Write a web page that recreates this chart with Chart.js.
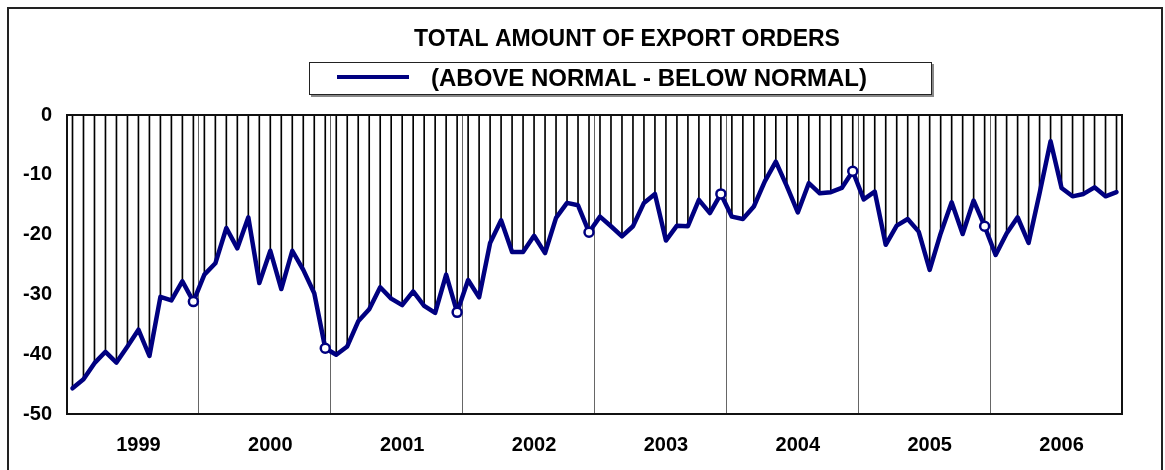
<!DOCTYPE html>
<html>
<head>
<meta charset="utf-8">
<script src="https://cdn.jsdelivr.net/npm/chart.js@4/dist/chart.umd.min.js"></script>
<style>
  html, body { margin: 0; padding: 0; background: #fff; }
  #wrap { position: relative; width: 1165px; height: 470px; }
</style>
</head>
<body>
<div id="wrap"><canvas id="exportChart" width="1165" height="470"></canvas></div>
<script>
  // yearly blocks, monthly balance (above normal - below normal)
  var years = ['1999', '2000', '2001', '2002', '2003', '2004', '2005', '2006'];
  var v1999 = [-45.7, -44.2, -41.5, -39.6, -41.4, -38.7, -35.9, -40.3, -30.4, -31.0, -27.8, -31.2];
  var v2000 = [-26.7, -24.8, -18.9, -22.3, -17.1, -28.1, -22.7, -29.1, -22.7, -25.9, -29.8, -39.0];
  var v2001 = [-40.1, -38.7, -34.5, -32.5, -28.8, -30.7, -31.8, -29.5, -31.9, -33.1, -26.7, -33.0];
  var v2002 = [-27.6, -30.5, -21.4, -17.6, -22.9, -22.9, -20.2, -23.1, -17.2, -14.7, -15.1, -19.6];
  var v2003 = [-17.0, -18.6, -20.3, -18.6, -14.7, -13.2, -21.0, -18.5, -18.6, -14.2, -16.4, -13.2];
  var v2004 = [-17.0, -17.4, -15.3, -11.1, -7.8, -11.9, -16.3, -11.4, -13.1, -12.9, -12.2, -9.4];
  var v2005 = [-14.1, -12.8, -21.7, -18.5, -17.4, -19.5, -25.9, -19.8, -14.6, -19.9, -14.3, -18.6];
  var v2006 = [-23.4, -19.8, -17.1, -21.4, -13.1, -4.4, -12.2, -13.6, -13.2, -12.1, -13.6, -12.9];
  var yTicks = [0, -10, -20, -30, -40, -50];

  var titleText = 'TOTAL AMOUNT OF EXPORT ORDERS';
  var seriesName = '(ABOVE NORMAL - BELOW NORMAL)';

  var values = [].concat(v1999, v2000, v2001, v2002, v2003, v2004, v2005, v2006);
  var labels = [];
  years.forEach(function (y) {
    for (var m = 1; m <= 12; m++) labels.push(y + '-' + m);
  });

  var NAVY = '#000080';
  var FONT = '"Liberation Sans", Arial, sans-serif';

  // outer frame, plot border, title and boxed legend
  var framePlugin = {
    id: 'frame',
    beforeDraw: function (chart) {
      var ctx = chart.ctx;
      ctx.save();
      ctx.fillStyle = '#fff';
      ctx.fillRect(0, 0, chart.width, chart.height);
      ctx.strokeStyle = '#222';
      ctx.lineWidth = 2;
      ctx.beginPath();
      ctx.moveTo(8, chart.height + 5);
      ctx.lineTo(8, 8);
      ctx.lineTo(1162, 8);
      ctx.lineTo(1162, chart.height + 5);
      ctx.stroke();
      ctx.restore();
    },
    afterDatasetsDraw: function (chart) {
      var ctx = chart.ctx, a = chart.chartArea;
      ctx.save();
      ctx.strokeStyle = '#111';
      ctx.lineWidth = 2;
      ctx.strokeRect(a.left, a.top, a.right - a.left, a.bottom - a.top);
      ctx.restore();
    },
    afterDraw: function (chart) {
      var ctx = chart.ctx;
      ctx.save();
      // title
      ctx.fillStyle = '#000';
      ctx.font = 'bold 23px ' + FONT;
      ctx.textAlign = 'center';
      ctx.textBaseline = 'middle';
      ctx.fillText(titleText, 627, 40);
      // legend box with shadow
      ctx.fillStyle = '#888';
      ctx.fillRect(311, 64, 623, 33);
      ctx.fillStyle = '#fff';
      ctx.fillRect(309, 62, 623, 33);
      ctx.strokeStyle = '#222';
      ctx.lineWidth = 1;
      ctx.strokeRect(309.5, 62.5, 622, 32);
      // legend sample line
      ctx.strokeStyle = NAVY;
      ctx.lineWidth = 4;
      ctx.beginPath();
      ctx.moveTo(337, 77);
      ctx.lineTo(409, 77);
      ctx.stroke();
      // legend text
      ctx.fillStyle = '#000';
      ctx.font = 'bold 24px ' + FONT;
      ctx.textAlign = 'left';
      ctx.fillText(seriesName, 431, 79);
      ctx.restore();
    }
  };

  var ctx = document.getElementById('exportChart').getContext('2d');
  var exportChart = new Chart(ctx, {
    type: 'bar',
    data: {
      labels: labels,
      datasets: [{
        type: 'line',
        label: seriesName,
        data: values,
        borderColor: NAVY,
        borderWidth: 4.5,
        tension: 0,
        borderJoinStyle: 'round',
        borderCapStyle: 'round',
        // hollow marker on each December except the last one
        pointRadius: function (c) { return (c.dataIndex % 12 === 11 && c.dataIndex < values.length - 1) ? 4.5 : 0; },
        pointBackgroundColor: '#fff',
        pointBorderColor: NAVY,
        pointBorderWidth: 2.5,
        order: 0
      }, {
        // drop lines from zero down to each month
        label: 'drop',
        data: values,
        backgroundColor: '#000',
        barThickness: 1,
        order: 1
      }]
    },
    options: {
      responsive: false,
      animation: false,
      layout: {
        padding: { left: 7, right: 43, top: 115, bottom: 0 }
      },
      plugins: {
        legend: { display: false },
        title: { display: false },
        tooltip: { enabled: false }
      },
      scales: {
        x: {
          offset: true,
          border: { display: false },
          grid: {
            offset: true,
            drawTicks: false,
            lineWidth: 1,
            color: function (c) {
              return (c.index % 12 === 0 && c.index > 0 && c.index < values.length) ? '#666' : 'rgba(0,0,0,0)';
            }
          },
          ticks: {
            autoSkip: false,
            maxRotation: 0,
            padding: 19,
            color: '#000',
            font: { family: FONT, size: 20, weight: 'bold' },
            callback: function (val, i) { return i % 12 === 6 ? years[Math.floor(i / 12)] : ''; }
          },
          afterFit: function (s) { s.height = 56; }
        },
        y: {
          min: -50,
          max: 0,
          border: { display: false },
          grid: { display: false, drawTicks: false },
          afterBuildTicks: function (s) { s.ticks = yTicks.map(function (v) { return { value: v }; }); },
          ticks: {
            padding: 15,
            color: '#000',
            font: { family: FONT, size: 20, weight: 'bold' }
          },
          afterFit: function (s) { s.width = 60; }
        }
      }
    },
    plugins: [framePlugin]
  });
</script>
</body>
</html>
